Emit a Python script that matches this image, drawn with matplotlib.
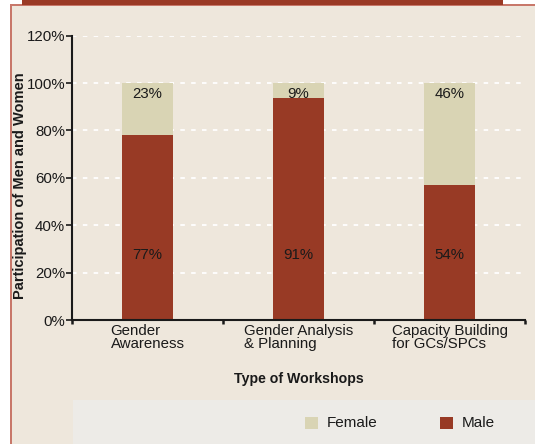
import numpy as np
import matplotlib.pyplot as plt
import matplotlib.patches as mpatches
from matplotlib.ticker import FixedLocator, NullFormatter

categories = ['Gender\nAwareness', 'Gender Analysis\n& Planning',
              'Capacity Building\nfor GCs/SPCs']
male = [78, 93.5, 57]
female = [22, 6.5, 43]
male_labels = ['77%', '91%', '54%']
female_labels = ['23%', '9%', '46%']
yticks = [0, 20, 40, 60, 80, 100, 120]

BG = '#EEE7DC'
MALE = '#983A25'
FEMALE = '#D9D4B4'
TXT = '#1a1a1a'
FS = 10.8

plt.rcParams['font.family'] = ['Liberation Sans', 'DejaVu Sans']

fw, fh = 5.35, 4.44
fig = plt.figure(figsize=(fw, fh), dpi=100)
fig.patch.set_facecolor('white')


def fig_rect(x, y, w, h, color, z):
    # rectangle in pixel units measured from the top-left corner
    fig.patches.append(mpatches.Rectangle((x/535, 1-(y+h)/444), w/535, h/444,
                                          transform=fig.transFigure, fc=color,
                                          ec='none', zorder=z))


# Page furniture: beige panel, borders, top red band, legend box.
fig_rect(10, 5, 525, 439, BG, -10)
fig_rect(10, 5, 2, 439, '#C8786A', -9)
fig_rect(10, 4.5, 525, 1.2, '#C8786A', -9)
fig_rect(22, 0, 481, 5, '#9A3A25', -8)
fig_rect(73, 400, 462, 44, '#EDEBE7', -9)

ax = fig.add_axes([72/535, 1-320/444, 453/535, 284.4/444], zorder=2)
ax.set_facecolor('none')
xpos = np.arange(len(categories))
w = 0.34
ax.bar(xpos, male, width=w, color=MALE, zorder=2)
ax.bar(xpos, female, width=w, bottom=male, color=FEMALE, zorder=2)

for x, ml, fl in zip(xpos, male_labels, female_labels):
    ax.text(x, 27.5, ml, ha='center', va='center', fontsize=FS, color=TXT,
            zorder=3)
    ax.text(x, 95.5, fl, ha='center', va='center', fontsize=FS, color=TXT,
            zorder=3)

ax.set_xlim(-0.5, 2.5)
ax.set_ylim(0, 120)
ax.set_yticks(yticks)
ax.set_yticklabels(['%d%%' % v for v in yticks], fontsize=FS, color=TXT)
for v in yticks[1:]:
    ax.axhline(v, color='white', lw=1.3, dashes=(2.5, 3.5), zorder=1)

ax.xaxis.set_major_locator(FixedLocator([-0.5, 0.5, 1.5, 2.5]))
ax.xaxis.set_major_formatter(NullFormatter())
ax.xaxis.set_minor_locator(FixedLocator(xpos))
ax.set_xticklabels(categories, minor=True, fontsize=FS, color=TXT,
                   multialignment='left', linespacing=0.9)
ax.tick_params(axis='x', which='minor', length=0, pad=3)
ax.tick_params(axis='x', which='major', length=3, width=1.8, color=TXT)
ax.tick_params(axis='y', length=4, width=1.2, color=TXT, pad=1)

for s in ['top', 'right']:
    ax.spines[s].set_visible(False)
for s in ['left', 'bottom']:
    ax.spines[s].set_linewidth(1.5)
    ax.spines[s].set_color(TXT)

ax.set_ylabel('Participation of Men and Women', fontsize=10.5,
              fontweight='bold', color=TXT, va='center')
ax.yaxis.set_label_coords(-0.115, 0.471)
ax.set_xlabel('Type of Workshops', fontsize=10.2, fontweight='bold',
              color=TXT, labelpad=15)

# Legend
for x0, col, lab in [(305, FEMALE, 'Female'), (440, MALE, 'Male')]:
    fig_rect(x0, 417, 13, 12, col, 3)
    fig.text((x0+22)/535, 1-423/444, lab, ha='left', va='center',
             fontsize=11, color=TXT)

fig.savefig('out.png', dpi=100, facecolor=fig.get_facecolor())
